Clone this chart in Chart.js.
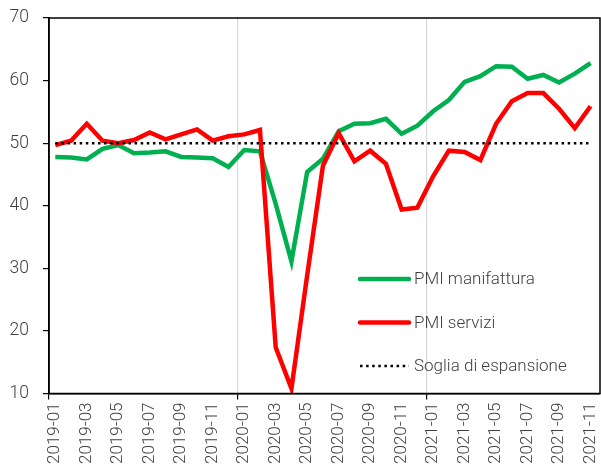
<!DOCTYPE html>
<html>
<head>
<meta charset="utf-8">
<script src="https://cdn.jsdelivr.net/npm/chart.js@4"></script>
<style>
  html, body { margin: 0; padding: 0; background: #fff; }
  #wrap { width: 601px; height: 469px; }
</style>
</head>
<body>
<div id="wrap"><canvas id="myChart" width="601" height="469"></canvas></div>
<script>
// mesi (etichette asse x)
const mesi = ['2019-01','2019-02','2019-03','2019-04','2019-05','2019-06','2019-07','2019-08','2019-09','2019-10','2019-11','2019-12',
              '2020-01','2020-02','2020-03','2020-04','2020-05','2020-06','2020-07','2020-08','2020-09','2020-10','2020-11','2020-12',
              '2021-01','2021-02','2021-03','2021-04','2021-05','2021-06','2021-07','2021-08','2021-09','2021-10','2021-11'];

const manifattura = [47.8,47.7,47.4,49.1,49.7,48.4,48.5,48.7,47.8,47.7,47.6,46.2,
                     48.9,48.7,40.3,31.1,45.4,47.5,51.9,53.1,53.2,53.9,51.5,52.8,
                     55.1,56.9,59.8,60.7,62.3,62.2,60.3,60.9,59.7,61.1,62.8];

const servizi = [49.7,50.4,53.1,50.4,50.0,50.5,51.7,50.6,51.4,52.2,50.4,51.1,
                 51.4,52.1,17.4,10.8,28.9,46.4,51.6,47.1,48.8,46.7,39.4,39.7,
                 44.7,48.8,48.6,47.3,53.1,56.7,58.0,58.0,55.5,52.4,55.9];

const soglia = [50,50,50,50,50,50,50,50,50,50,50,50,
                50,50,50,50,50,50,50,50,50,50,50,50,
                50,50,50,50,50,50,50,50,50,50,50];

const yTicks = [10, 20, 30, 40, 50, 60, 70];
const inizioAnno = [0, 12, 24];

// i valori mensili stanno a metà mese
const punti = (serie) => serie.map((v, i) => ({ x: i + 0.4, y: v }));

Chart.defaults.font.family = 'Roboto';
Chart.defaults.font.size = 17;
Chart.defaults.font.weight = '300';
Chart.defaults.color = '#404040';

const cornice = {
  id: 'cornice',
  afterDatasetsDraw(chart) {
    const a = chart.chartArea, c = chart.ctx;
    c.save();
    c.strokeStyle = '#000';
    c.lineWidth = 1.5;
    c.strokeRect(a.left, a.top, a.right - a.left, a.bottom - a.top);
    c.restore();
  }
};

const legenda = {
  id: 'legenda',
  afterDraw(chart) {
    const a = chart.chartArea, c = chart.ctx;
    const x0 = a.left + 311, y0 = a.top + 261, passo = 43.5;
    c.save();
    c.font = '300 17px Roboto';
    c.textBaseline = 'middle';
    c.fillStyle = '#404040';
    chart.data.datasets.forEach((ds, k) => {
      const y = y0 + k * passo;
      c.beginPath();
      c.strokeStyle = ds.borderColor;
      c.lineWidth = ds.borderWidth;
      c.lineCap = ds.borderDash ? 'butt' : 'round';
      c.setLineDash(ds.borderDash || []);
      c.moveTo(x0, y);
      c.lineTo(x0 + 49, y);
      c.stroke();
      c.setLineDash([]);
      c.fillText(ds.label, x0 + 54, y + 1);
    });
    c.restore();
  }
};

let ctx = document.querySelector('#myChart').getContext('2d');
let myChart = new Chart(ctx, {
  type: 'line',
  data: {
    datasets: [{
      label: 'PMI manifattura',
      data: punti(manifattura),
      borderColor: '#00B050',
      borderWidth: 4.5,
      pointRadius: 0,
      order: 2
    }, {
      label: 'PMI servizi',
      data: punti(servizi),
      borderColor: '#FF0000',
      borderWidth: 4.5,
      pointRadius: 0,
      order: 1
    }, {
      label: 'Soglia di espansione',
      data: punti(soglia),
      borderColor: '#000000',
      borderWidth: 2.5,
      borderDash: [2.5, 3.6],
      pointRadius: 0,
      order: 0
    }]
  },
  options: {
    responsive: false,
    animation: false,
    layout: { padding: { top: 18, right: 1, left: 0, bottom: 0 } },
    plugins: { legend: { display: false }, tooltip: { enabled: false } },
    scales: {
      x: {
        type: 'linear',
        min: 0,
        max: 35,
        afterFit: (s) => { s.height = 75.5; s.paddingLeft = 0; s.paddingRight = 0; },
        border: { color: '#000', width: 1.5 },
        grid: {
          color: (c) => inizioAnno.includes(c.tick && c.tick.value) && c.tick.value > 0 ? '#d9d9d9' : 'rgba(0,0,0,0)',
          tickColor: (c) => inizioAnno.includes(c.tick && c.tick.value) ? '#000' : 'rgba(0,0,0,0)',
          tickLength: 6,
          lineWidth: 1.2
        },
        ticks: {
          stepSize: 2,
          includeBounds: false,
          autoSkip: false,
          maxRotation: 90,
          minRotation: 90,
          padding: 3,
          labelOffset: 6,
          font: { size: 17 },
          callback: (v) => mesi[v] !== undefined ? mesi[v] : ''
        }
      },
      y: {
        min: yTicks[0],
        max: yTicks[yTicks.length - 1],
        afterFit: (s) => { s.width = 49; s.paddingTop = 0; s.paddingBottom = 0; },
        border: { color: '#000', width: 1.5 },
        grid: { drawOnChartArea: false, tickLength: 6, tickColor: '#000', lineWidth: 1.2 },
        ticks: { stepSize: 10, padding: 14, font: { size: 17.5 } }
      }
    }
  },
  plugins: [cornice, legenda]
});
</script>
</body>
</html>
